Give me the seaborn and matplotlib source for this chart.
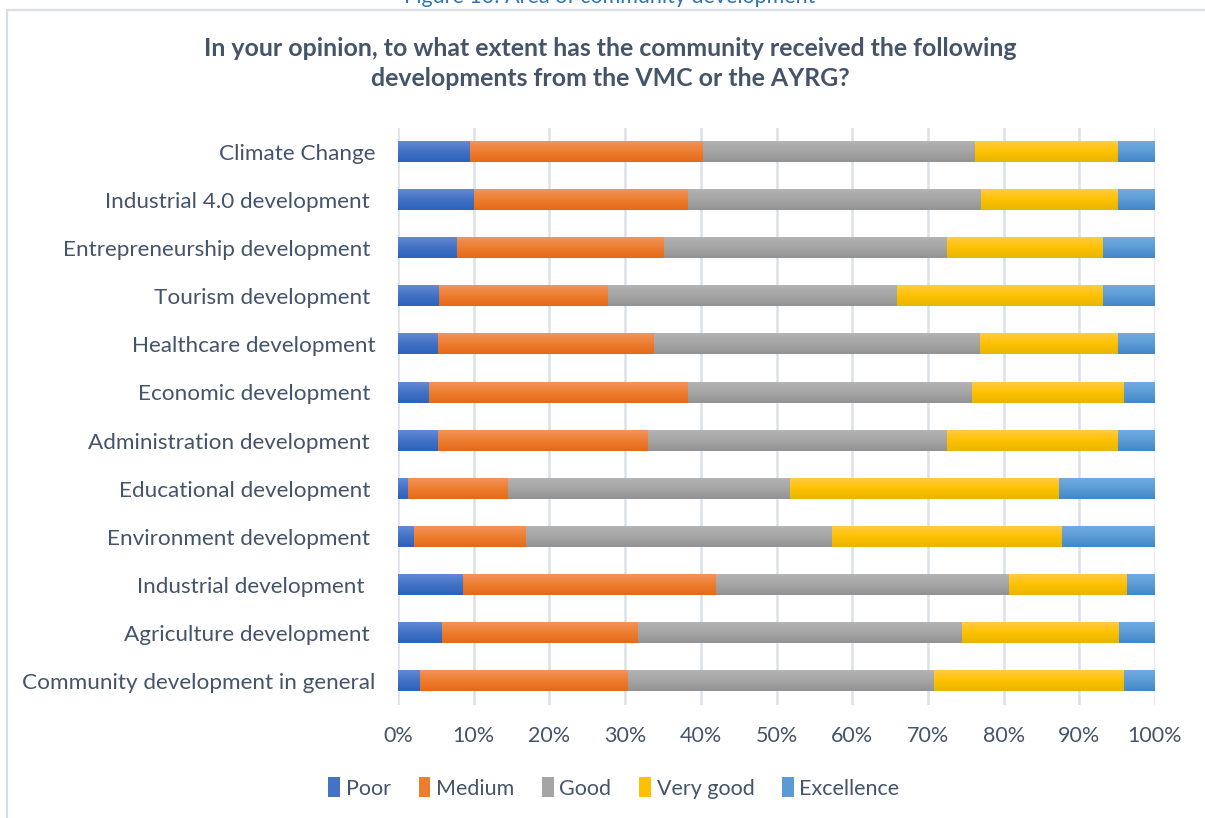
import numpy as np
import pandas as pd
import matplotlib
matplotlib.use("Agg")
import matplotlib.pyplot as plt
import matplotlib.colors as mcolors
from matplotlib.patches import Patch
from matplotlib.lines import Line2D
import seaborn as sns

# ---- data (percent of respondents) ----
categories = [
    "Climate Change",
    "Industrial 4.0 development ",
    "Entrepreneurship development ",
    "Tourism development ",
    "Healthcare development",
    "Economic development ",
    "Administration development ",
    "Educational development ",
    "Environment development ",
    "Industrial development  ",
    "Agriculture development ",
    "Community development in general",
]
levels = ["Poor", "Medium", "Good", "Very good", "Excellence"]

poor       = [9.5, 10.0, 7.7, 5.4, 5.2, 4.0, 5.2, 1.3, 2.1, 8.5, 5.7, 2.9]
medium     = [30.7, 28.2, 27.4, 22.3, 28.6, 34.2, 27.7, 13.2, 14.8, 33.5, 25.9, 27.4]
good       = [36.0, 38.8, 37.3, 38.1, 43.0, 37.5, 39.5, 37.2, 40.3, 38.6, 42.9, 40.4]
very_good  = [18.8, 18.0, 20.6, 27.2, 18.2, 20.1, 22.6, 35.5, 30.5, 15.7, 20.7, 25.1]
excellence = [5.0, 5.0, 7.0, 7.0, 5.0, 4.2, 5.0, 12.8, 12.3, 3.7, 4.8, 4.2]

title_text = ("In your opinion, to what extent has the community received the following\n"
              "developments from the VMC or the AYRG?")
caption_text = "Figure 10: Area of community development"

# fill colours: (top of bar, base colour, bottom of bar)
palette = {
    "Poor":       ("#6189D8", "#4472C4", "#2C61BC"),
    "Medium":     ("#F3935A", "#ED7D31", "#E46A17"),
    "Good":       ("#B3B3B3", "#A5A5A5", "#929292"),
    "Very good":  ("#FFCB45", "#FFC000", "#E5B600"),
    "Excellence": ("#72AAE2", "#5B9BD5", "#4187CA"),
}

text_col = "#44546A"
grid_col = "#DCE1E8"
font = ["Lato", "DejaVu Sans"]

df = pd.DataFrame({"category": categories, "Poor": poor, "Medium": medium,
                   "Good": good, "Very good": very_good, "Excellence": excellence})
total = df[levels].sum(axis=1)
shares = df[levels].div(total, axis=0)
cum = shares.cumsum(axis=1)

sns.set_theme(style="white")
plt.rcParams["font.family"] = font

fig = plt.figure(figsize=(12.05, 8.18), dpi=100)
ax = fig.add_axes([398 / 1205, 1 - 705 / 818, 757 / 1205, 577 / 818])

# stacked bars: draw cumulative totals from the widest down
bar_w = 0.42
layer_patches = []
for lvl in reversed(levels):
    n_before = len(ax.patches)
    sns.barplot(x=cum[lvl].values, y=df["category"], color=palette[lvl][1],
                orient="h", width=bar_w, saturation=1, ax=ax, zorder=2)
    layer_patches.append((lvl, ax.patches[n_before:]))

ax.set_xlim(0, 1)
ax.set_ylim(len(categories) - 0.5, -0.5)
xl, yl = ax.get_xlim(), ax.get_ylim()

# vertical shading on each bar segment
z = 3
for lvl, patches in layer_patches:
    top, mid, bot = (np.array(mcolors.to_rgb(c)) for c in palette[lvl])
    t = np.linspace(0, 1, 64)[:, None]
    grad = np.where(t < 0.5, top + (mid - top) * (t / 0.5), mid + (bot - mid) * ((t - 0.5) / 0.5))
    img = grad[:, None, :]
    for p in patches:
        x0, y0 = p.get_x(), p.get_y()
        w, h = p.get_width(), p.get_height()
        p.set_visible(False)
        ax.imshow(img, extent=(x0, x0 + w, y0 + h, y0), origin="upper",
                  aspect="auto", interpolation="bilinear", zorder=z)
    z += 1
ax.set_xlim(*xl)
ax.set_ylim(*yl)

# axes styling
for s in ax.spines.values():
    s.set_visible(False)
ax.set_xticks(np.linspace(0, 1, 11))
ax.set_xticklabels([f"{int(v)}%" for v in np.linspace(0, 100, 11)])
ax.grid(axis="x", color=grid_col, linewidth=1.8, zorder=0)
ax.grid(axis="y", visible=False)
ax.set_axisbelow(True)
ax.tick_params(axis="x", length=0, pad=15, labelsize=15.5, labelcolor=text_col)
ax.tick_params(axis="y", length=0, pad=16, labelsize=16.2, labelcolor=text_col)
ax.set_xlabel("")
ax.set_ylabel("")

# legend
handles = [Patch(facecolor=palette[l][1], edgecolor="none") for l in levels]
fig.legend(handles, levels, loc="center", bbox_to_anchor=(614 / 1205, 1 - 788 / 818),
           ncol=5, frameon=False, fontsize=15.5, labelcolor=text_col,
           handlelength=0.55, handleheight=1.0, handletextpad=0.25, columnspacing=1.3)

# title and caption
fig.text(610 / 1205, 1 - 63.5 / 818, title_text, ha="center", va="center",
         fontsize=17.9, fontweight="bold", color=text_col, linespacing=1.35)
fig.text(610 / 1205, 1 - 3 / 818, caption_text, ha="center", va="baseline",
         fontsize=15.5, color="#2E74B5")

# chart frame (top and left edges)
fig.add_artist(Line2D([7 / 1205, 1.0], [1 - 10 / 818, 1 - 10 / 818],
                      transform=fig.transFigure, color="#D9DEE6", linewidth=1.6))
fig.add_artist(Line2D([7 / 1205, 7 / 1205], [1 - 10 / 818, 0.0],
                      transform=fig.transFigure, color="#D9DEE6", linewidth=1.6))

fig.savefig("out.png", dpi=100, facecolor="white")
